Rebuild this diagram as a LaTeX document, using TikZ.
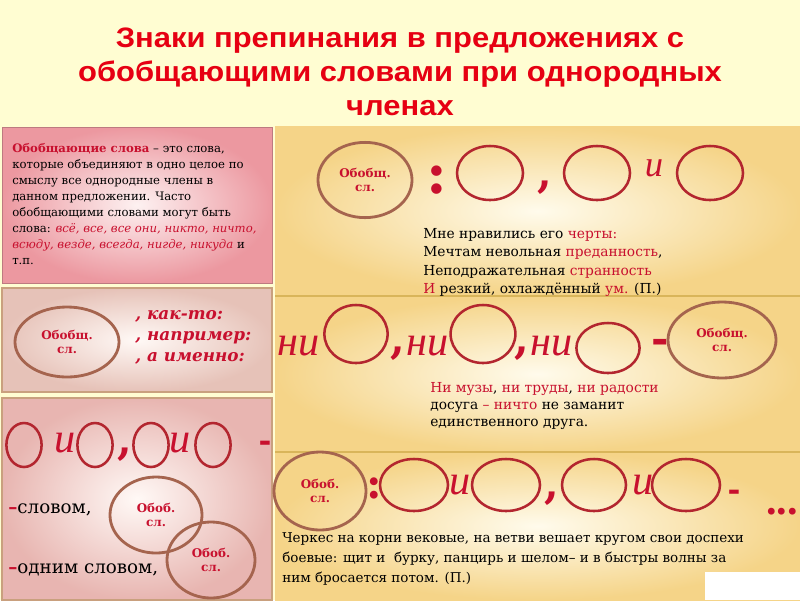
\documentclass[tikz,border=0pt]{standalone}
\usepackage{fontspec}
\setmainfont{DejaVu Serif}
\newfontfamily\headfont[FakeStretch=1.1]{Liberation Sans}
\newfontfamily\signfont{Liberation Serif}
\usetikzlibrary{shapes.geometric}

\definecolor{headred}{HTML}{E60012}
\definecolor{txtred}{HTML}{C8102E}
\definecolor{ringred}{HTML}{B3262F}
\definecolor{ringbrown}{HTML}{A5644E}
\definecolor{paleyel}{HTML}{FFFDD2}
\definecolor{goldcore}{HTML}{FFFBEC}
\definecolor{goldedge}{HTML}{F5D488}
\definecolor{goldline}{HTML}{D9B55A}
\definecolor{pinkcore}{HTML}{FDF1F1}
\definecolor{pinkedge}{HTML}{EC98A0}
\definecolor{tancore}{HTML}{FFF9F6}
\definecolor{tanedge}{HTML}{E6C2B8}
\definecolor{tanline}{HTML}{C9A07E}

\tikzset{
  member/.style={ellipse, draw=ringred, line width=1.8pt, inner sep=0pt,
    minimum width=1.65cm, minimum height=1.35cm},
  smallmember/.style={member, minimum width=0.88cm, minimum height=1.1cm},
  gensl/.style={ellipse, draw=ringbrown, line width=2pt, inner sep=0pt, align=center,
    text=txtred, font=\fontsize{8.5}{10}\selectfont\bfseries},
  sign/.style={text=txtred, inner sep=0pt, font=\fontsize{30}{30}\selectfont\bfseries},
  conj/.style={text=txtred, inner sep=0pt, font=\signfont\itshape\fontsize{30}{30}\selectfont},
  example/.style={anchor=north west, align=left, inner sep=0pt}
}

\begin{document}
\begin{tikzpicture}[x=0.025cm,y=-0.025cm]
\useasboundingbox (0,0) rectangle (800,600);
%Background
\fill[paleyel] (0,0) rectangle (800,600);
\shade[inner color=goldcore, outer color=goldedge] (275,126) rectangle (800,296);
\shade[inner color=goldcore, outer color=goldedge] (275,296) rectangle (800,452);
\shade[inner color=goldcore, outer color=goldedge] (275,452) rectangle (800,600);
\draw[goldline, line width=1.5pt] (275,296)--(800,296);
\draw[goldline, line width=1.5pt] (275,452)--(800,452);
\shade[inner color=pinkcore, outer color=pinkedge, draw=pinkedge!80!black] (2,127) rectangle (272,283);
\shade[inner color=tancore, outer color=tanedge, draw=tanline, line width=1pt] (2,288) rectangle (272,392);
\shade[inner color=tancore, outer color=tanedge!70!pinkedge, draw=tanline, line width=1pt] (2,398) rectangle (272,600);
\fill[white] (705,572) rectangle (800,600);

%Title
\node[text=headred, align=center, font=\headfont\bfseries\fontsize{20}{24}\selectfont] (title) at (400,72)
  {Знаки препинания в предложениях с\\обобщающими словами при однородных\\членах};

%Definition
\node[example, font=\fontsize{8.3}{11.4}\selectfont] (definition) at (12,143)
  {\textcolor{txtred}{\bfseries Обобщающие слова} -- это слова,\\
   которые объединяют в одно целое по\\
   смыслу все однородные члены в\\
   данном предложении. Часто\\
   обобщающими словами могут быть\\
   слова: \textcolor{txtred}{\itshape всё, все, все они, никто, ничто,}\\
   \textcolor{txtred}{\itshape всюду, везде, всегда, нигде, никуда} и\\
   т.п.};

%Row 1
\node[gensl, minimum width=2.35cm, minimum height=1.88cm] (g1) at (365,180) {Обобщ.\\сл.};
\node[sign, font=\fontsize{40}{40}\selectfont\bfseries] (colon1) at (437,180) {:};
\node[member] (a1) at (490,173) {};
\node[sign] (comma1) at (545,188) {,};
\node[member] (a2) at (597,173) {};
\node[conj, font=\signfont\itshape\fontsize{26}{26}\selectfont] (and1) at (654,168) {и};
\node[member] (a3) at (710,173) {};
\node[example, font=\fontsize{9.8}{13.1}\selectfont] (ex1) at (423,228)
  {Мне нравились его \textcolor{txtred}{черты:}\\
   Мечтам невольная \textcolor{txtred}{преданность},\\
   Неподражательная \textcolor{txtred}{странность}\\
   \textcolor{txtred}{И} резкий, охлаждённый \textcolor{txtred}{ум.} (П.)};

%Row 2
\node[gensl, minimum width=2.6cm, minimum height=1.75cm] (g2) at (67,342) {Обобщ.\\сл.};
\node[example, text=txtred, font=\fontsize{12}{15}\selectfont\bfseries\itshape] (words) at (135,310)
  {, как-то:\\, например:\\, а именно:};

\node[conj] (neg1) at (299,346) {ни};
\node[member, minimum width=1.58cm, minimum height=1.45cm] (b1) at (356,334) {};
\node[sign] (comma2) at (398,354) {,};
\node[conj] (neg2) at (428,346) {ни};
\node[member, minimum width=1.62cm, minimum height=1.45cm] (b2) at (483,334) {};
\node[sign] (comma3) at (522,354) {,};
\node[conj] (neg3) at (552,346) {ни};
\node[member, minimum width=1.58cm, minimum height=1.25cm] (b3) at (608,348) {};
\node[sign] (dash2) at (660,346) {-};
\node[gensl, minimum width=2.7cm, minimum height=1.9cm] (g3) at (722,340) {Обобщ.\\сл.};
\node[example, font=\fontsize{9.8}{12.2}\selectfont] (ex2) at (430,382)
  {\textcolor{txtred}{Ни музы}, \textcolor{txtred}{ни труды}, \textcolor{txtred}{ни радости}\\
   досуга \textcolor{txtred}{--} \textcolor{txtred}{ничто} не заманит\\
   единственного друга.};

%Row 3
\node[smallmember] (c1) at (24,445) {};
\node[conj] (and2) at (65,443) {и};
\node[smallmember] (c2) at (95,445) {};
\node[sign] (comma4) at (125,455) {,};
\node[smallmember] (c3) at (151,445) {};
\node[conj] (and3) at (180,443) {и};
\node[smallmember] (c4) at (213,445) {};
\node[sign, font=\fontsize{22}{22}\selectfont\bfseries] (dash3) at (265,446) {-};
\node[gensl, minimum width=2.3cm, minimum height=1.9cm] (g4) at (156,515) {Обоб.\\сл.};
\node[gensl, minimum width=2.2cm, minimum height=1.9cm] (g5) at (211,560) {Обоб.\\сл.};
\node[anchor=west, inner sep=0pt, font=\fontsize{13}{15}\selectfont] (word1) at (8,510)
  {\textcolor{txtred}{\bfseries--}словом,};
\node[anchor=west, inner sep=0pt, font=\fontsize{13}{15}\selectfont] (word2) at (8,570)
  {\textcolor{txtred}{\bfseries--}одним словом,};

%Row 4
\node[gensl, minimum width=2.3cm, minimum height=1.95cm] (g6) at (320,491) {Обоб.\\сл.};
\node[sign] (colon2) at (374,488) {:};
\node[member, minimum width=1.7cm, minimum height=1.3cm] (d1) at (414,485) {};
\node[conj] (and4) at (460,485) {и};
\node[member, minimum width=1.7cm, minimum height=1.3cm] (d2) at (506,485) {};
\node[sign] (comma5) at (552,499) {,};
\node[member, minimum width=1.6cm, minimum height=1.3cm] (d3) at (594,485) {};
\node[conj] (and5) at (643,485) {и};
\node[member, minimum width=1.7cm, minimum height=1.3cm] (d4) at (686,485) {};
\node[sign, font=\fontsize{22}{22}\selectfont\bfseries] (dash4) at (734,495) {-};
\node[sign, font=\signfont\bfseries\fontsize{30}{30}\selectfont] (dots) at (782,512) {...};
\node[example, font=\fontsize{9.6}{14.2}\selectfont] (ex3) at (282,532)
  {Черкес на корни вековые, на ветви вешает кругом свои доспехи\\
   боевые: щит и\ \ бурку, панцирь и шелом-- и в быстры волны за\\
   ним бросается потом. (П.)};
\end{tikzpicture}
\end{document}
